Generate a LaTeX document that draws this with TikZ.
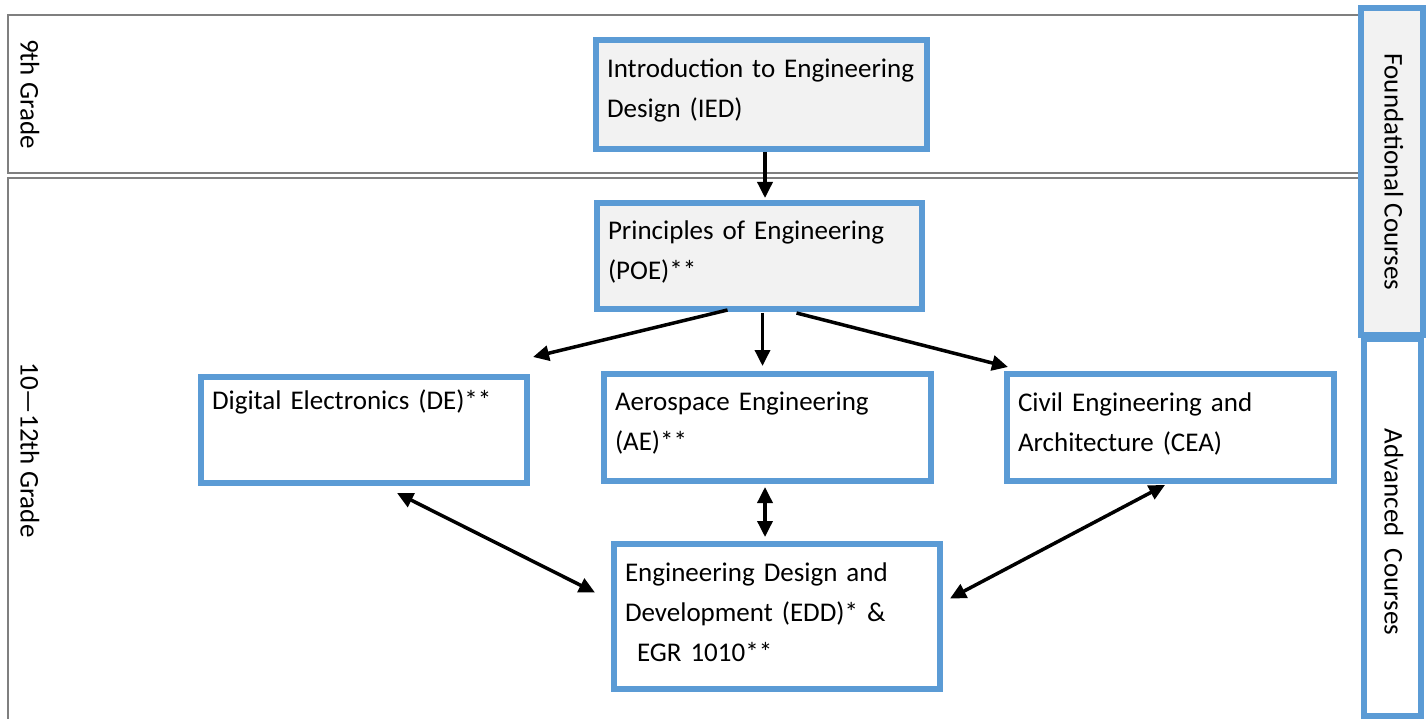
\documentclass[tikz,border=0pt]{standalone}
\usepackage{fontspec}
\setmainfont{Carlito}
\usetikzlibrary{arrows.meta}
\definecolor{courseblue}{HTML}{5B9BD5}
\definecolor{coursegray}{HTML}{F2F2F2}
\definecolor{bandgray}{HTML}{7F7F7F}
\begin{document}
\begin{tikzpicture}[x=1pt,y=1pt,
		every node/.style={font=\fontsize{27}{40}\selectfont},
		course/.style={draw=courseblue,line width=6pt,anchor=north west,align=left,inner xsep=11pt,inner ysep=4pt,
			execute at end node={\endgraf\vspace*{8pt}}},
		found/.style={course,fill=coursegray},
		band/.style={draw=bandgray,line width=1.5pt},
		flow/.style={line width=3.5pt,-{Triangle[length=16pt,width=15pt]}},
		both/.style={line width=3.5pt,{Triangle[length=16pt,width=15pt]}-{Triangle[length=16pt,width=15pt]}}]
		\useasboundingbox (0,0) rectangle (1427,-719);
		\draw [band] (8,-15) rectangle (1362,-173);
		\draw [band] (8,-178) rectangle (1362,-740);
		\node (ninth) [rotate=-90] at (30,-94) {9th Grade};
		\node (upper) [rotate=-90] at (30,-450) {10—12th Grade};
		\draw [courseblue,line width=6pt,fill=white] (1364,-339) rectangle (1421,-716);
		\draw [courseblue,line width=6pt,fill=coursegray] (1361,-8) rectangle (1423,-335);
		\node (foundlbl) [rotate=-90] at (1394,-172) {Foundational Courses};
		\node (advlbl) [rotate=-90] at (1394,-532) {Advanced\ \ Courses};
		\node (ied) [found,minimum width=331,minimum height=109,text width=309] at (593,-37) {Introduction to Engineering\\Design (IED)};
		\node (poe) [found,minimum width=325,minimum height=106,text width=303] at (594,-200) {Principles of Engineering\\(POE)**};
		\node (de) [course,minimum width=326,minimum height=106,text width=304] at (198,-374) {Digital Electronics (DE)**\\ \strut};
		\node (ae) [course,minimum width=327,minimum height=107,text width=305] at (601,-371) {Aerospace Engineering\\(AE)**};
		\node (cea) [course,minimum width=327,minimum height=107,text width=305] at (1004,-371) {Civil Engineering and\\Architecture (CEA)};
		\node (edd) [course,minimum width=326,minimum height=145,text width=304] at (611,-541) {Engineering Design and\\Development (EDD)* \&\\\hspace*{12pt}EGR 1010**};
		\draw [flow] ([xshift=3.5]ied.south) -- ([shift={(5.5,2)}]poe.north);
		\draw [flow] ([shift={(-32,2)}]poe.south) -- ([shift={(3,17)}]de.north east);
		\draw [flow] ([shift={(3,-1)}]poe.south) -- ([shift={(-5,5)}]ae.north);
		\draw [flow] ([shift={(37,-1)}]poe.south) -- ([shift={(4,4)}]cea.north west);
		\draw [both] ([shift={(33,-7)}]de.south) -- ([shift={(-16,24)}]edd.west);
		\draw [both] ([shift={(-2.5,-3)}]ae.south) -- ([shift={(-12,4)}]edd.north);
		\draw [both] ([shift={(-5.5,-1)}]cea.south) -- ([shift={(7,18)}]edd.east);
	\end{tikzpicture}
\end{document}
